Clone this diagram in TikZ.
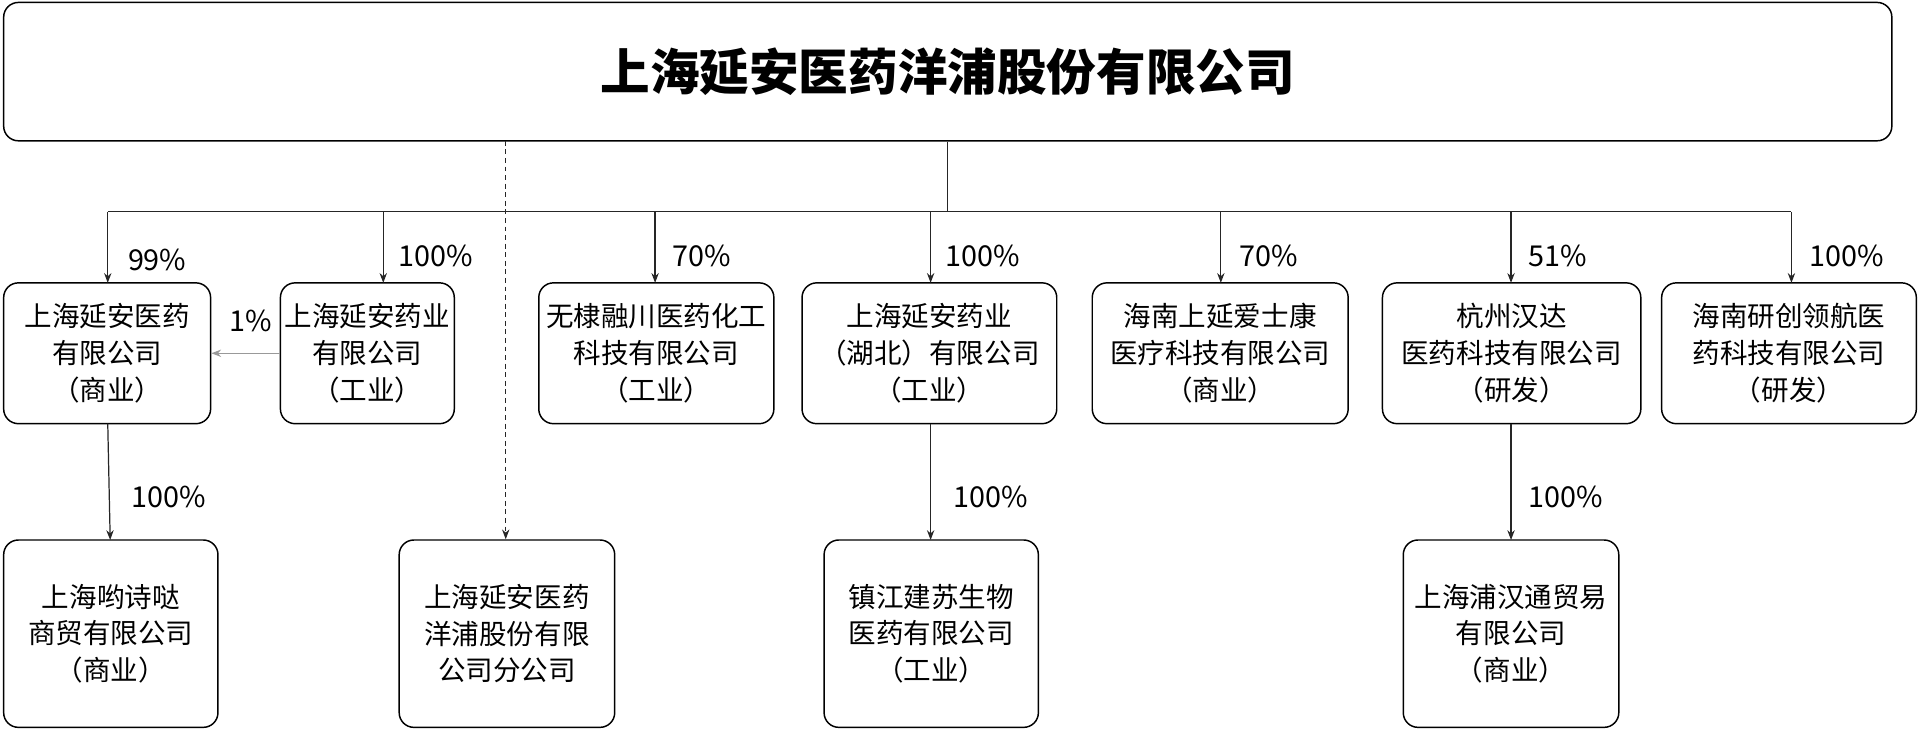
\documentclass[tikz,border=0pt]{standalone}
\usepackage{fontspec}
\setmainfont{Noto Sans CJK SC}
\usetikzlibrary{arrows.meta}
\begin{document}
\begin{tikzpicture}[x=1pt,y=-1pt,
 box/.style={draw=black,line width=1.2pt,rounded corners=12pt,align=center,font=\fontsize{22.5}{30}\selectfont,inner sep=0},
 arr/.style={-{Stealth[length=8pt,width=6pt]},line width=1pt,draw=black!85},
 lab/.style={font=\fontsize{23.5}{26}\selectfont,anchor=west}]
\useasboundingbox (0,0) rectangle (1568,596);
\node[box,minimum width=1542pt,minimum height=113pt,font=\fontsize{40.5}{44}\selectfont\bfseries] (top) at (774,58.5) {上海延安医药洋浦股份有限公司};
% row 1
\node[box,minimum width=169pt,minimum height=115pt] (b1) at (87.5,288.5) {上海延安医药\\有限公司\\（商业）};
\node[box,minimum width=142pt,minimum height=115pt] (b2) at (300,288.5) {上海延安药业\\有限公司\\（工业）};
\node[box,minimum width=192pt,minimum height=115pt] (b3) at (536,288.5) {无棣融川医药化工\\科技有限公司\\（工业）};
\node[box,minimum width=208pt,minimum height=115pt] (b4) at (759,288.5) {上海延安药业\\（湖北）有限公司\\（工业）};
\node[box,minimum width=209pt,minimum height=115pt] (b5) at (996.5,288.5) {海南上延爱士康\\医疗科技有限公司\\（商业）};
\node[box,minimum width=211pt,minimum height=115pt] (b6) at (1234.5,288.5) {杭州汉达\\医药科技有限公司\\（研发）};
\node[box,minimum width=208pt,minimum height=115pt] (b7) at (1461,288.5) {海南研创领航医\\药科技有限公司\\（研发）};
% row 2
\node[box,minimum width=175pt,minimum height=153pt] (c1) at (90.5,517.5) {上海哟诗哒\\商贸有限公司\\（商业）};
\node[box,minimum width=176pt,minimum height=153pt] (c2) at (414,517.5) {上海延安医药\\洋浦股份有限\\公司分公司};
\node[box,minimum width=175pt,minimum height=153pt] (c3) at (760.5,517.5) {镇江建苏生物\\医药有限公司\\（工业）};
\node[box,minimum width=176pt,minimum height=153pt] (c4) at (1234,517.5) {上海浦汉通贸易\\有限公司\\（商业）};
% trunk
\coordinate (j) at (774,173);
\draw[line width=1pt,draw=black!85] (top.south -| j) -- (j);
\draw[line width=1pt,draw=black!85] (88,173) -- (1463,173);
\foreach \b/\x in {b1/88,b2/313,b3/535,b4/760,b5/997,b6/1234,b7/1463}
  \draw[arr] (\x,173) -- (\x,231);
\node[lab] at (101,212) {99\%};
\node[lab] at (322,209) {100\%};
\node[lab] at (546,209) {70\%};
\node[lab] at (769,209) {100\%};
\node[lab] at (1009,209) {70\%};
\node[lab] at (1245,209) {51\%};
\node[lab] at (1474,209) {100\%};
% 1%
\draw[-{Stealth[length=8pt,width=6pt]},line width=1pt,draw=black!40] (b2.west) -- (b1.east);
\node[lab] at (184,262) {1\%};
% dashed
\draw[arr,dashed,dash pattern=on 4pt off 3pt] (413,115) -- (c2.north -| 413,0);
% second level
\draw[arr] (88,346) -- (90,441);
\node[lab] at (104,406) {100\%};
\draw[arr] (760,346) -- (760,441);
\node[lab] at (775,406) {100\%};
\draw[arr] (1234,346) -- (1234,441);
\node[lab] at (1245,406) {100\%};
\end{tikzpicture}
\end{document}
